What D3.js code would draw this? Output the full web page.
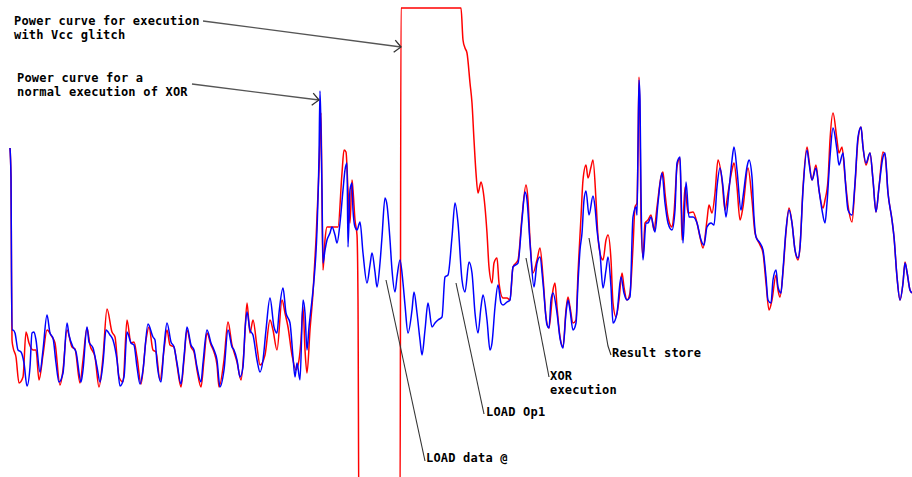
<!DOCTYPE html>
<html>
<head>
<meta charset="utf-8">
<script src="https://cdn.jsdelivr.net/npm/d3@7"></script>
<style>
  body { margin: 0; background: #fff; }
  #chart { width: 912px; height: 477px; }
</style>
</head>
<body>
<div id="chart"></div>
<script>
// sample index (time) and power reading, normal run of XOR
const normalTime = [10, 11, 11.5, 12, 13, 15, 18, 21, 24, 27, 30, 32, 34, 36, 40, 43, 47, 50, 53, 56, 59, 63, 67, 69, 73, 76, 81, 83, 87, 89, 93, 97, 100, 103, 106, 110, 113, 117, 120, 124, 127, 131, 134, 137, 140, 143, 148, 153, 155, 157, 161, 164, 167, 171, 174, 177, 181, 184, 187, 191, 194, 197, 201, 203, 207, 211, 214, 217, 220, 224, 228, 232, 234, 237, 240, 243, 245, 247, 250, 253, 257, 260, 263, 266, 270, 274, 277, 279, 283, 286, 290, 293, 295, 297, 300, 303, 305, 307, 309, 312, 314, 317, 319, 320, 321, 322, 323, 325, 327, 330, 332, 335, 337, 340, 343, 345, 347, 348, 350, 352, 353, 355, 357, 360, 363, 367, 370, 372, 375, 377, 380, 382, 385, 387, 390, 392, 395, 397, 400, 403, 405, 408, 412, 414, 417, 420, 422, 425, 428, 432, 435, 438, 442, 445, 448, 452, 455, 458, 462, 465, 469, 472, 475, 478, 481, 483, 487, 490, 492, 495, 498, 501, 503, 507, 510, 513, 518, 522, 525, 527, 530, 534, 537, 540, 543, 547, 549, 551, 553, 557, 560, 563, 566, 568, 570, 573, 576, 578, 580, 582, 584, 586, 589, 593, 595, 597, 600, 603, 606, 608, 611, 613, 617, 621, 624, 627, 630, 633, 636, 637, 638, 639, 640, 641, 643, 646, 648, 651, 655, 658, 662, 665, 668, 672, 675, 677, 680, 681, 683, 686, 689, 693, 697, 701, 704, 707, 711, 714, 717, 720, 723, 726, 729, 732, 734, 737, 741, 743, 747, 749, 752, 754, 756, 760, 763, 766, 768, 771, 773, 776, 778, 781, 783, 786, 789, 792, 795, 798, 800, 803, 807, 809, 812, 816, 819, 822, 825, 827, 830, 833, 837, 839, 843, 846, 848, 852, 855, 858, 861, 863, 866, 870, 873, 876, 879, 883, 885, 888, 892, 894, 897, 900, 903, 905, 907, 910, 912];
const normalPower = [332, 303, 208, 150, 150, 147, 130, 128, 117, 94, 113, 147, 148, 140, 108, 130, 165, 147, 142, 117, 98, 107, 157, 145, 133, 128, 98, 110, 153, 138, 132, 113, 98, 117, 150, 145, 140, 120, 94, 103, 148, 137, 135, 113, 96, 110, 156, 143, 140, 117, 98, 133, 157, 138, 133, 117, 96, 123, 153, 135, 130, 113, 98, 117, 150, 137, 130, 120, 93, 110, 150, 133, 130, 120, 103, 113, 150, 168, 150, 145, 120, 108, 120, 150, 182, 153, 147, 167, 192, 167, 157, 123, 103, 117, 100, 180, 167, 130, 153, 180, 200, 250, 323, 389, 350, 290, 217, 230, 240, 247, 253, 245, 237, 257, 290, 310, 317, 233, 290, 297, 270, 253, 250, 258, 227, 197, 215, 227, 208, 193, 217, 243, 282, 275, 240, 210, 188, 203, 220, 197, 175, 147, 170, 188, 167, 140, 125, 150, 177, 153, 157, 160, 163, 203, 205, 243, 277, 257, 200, 188, 218, 207, 167, 147, 173, 185, 160, 130, 137, 173, 195, 177, 175, 178, 180, 213, 217, 260, 288, 280, 237, 193, 217, 223, 197, 155, 152, 180, 187, 167, 142, 132, 167, 180, 170, 150, 157, 197, 230, 247, 280, 289, 265, 284, 273, 250, 227, 192, 210, 223, 193, 157, 167, 203, 187, 180, 183, 263, 273, 265, 330, 400, 380, 287, 220, 257, 257, 263, 248, 277, 307, 277, 257, 250, 270, 317, 323, 290, 237, 298, 263, 263, 257, 240, 235, 253, 257, 255, 293, 312, 293, 263, 290, 320, 333, 310, 270, 283, 313, 320, 303, 263, 243, 237, 230, 203, 180, 177, 200, 210, 193, 187, 210, 250, 270, 257, 230, 222, 233, 290, 330, 317, 300, 312, 290, 270, 257, 277, 323, 352, 330, 315, 327, 290, 270, 265, 297, 343, 353, 333, 317, 327, 300, 268, 293, 323, 327, 287, 260, 243, 203, 180, 197, 217, 208, 190, 187];

// same run with the Vcc glitch
const glitchTime = [10, 11, 11.5, 12, 13, 16, 19, 23, 26, 29, 33, 36, 39, 43, 47, 52, 55, 60, 63, 67, 72, 75, 80, 83, 87, 90, 95, 99, 103, 107, 112, 115, 119, 123, 127, 131, 134, 137, 141, 146, 149, 153, 156, 160, 164, 167, 170, 174, 177, 181, 184, 187, 191, 194, 197, 201, 204, 207, 211, 214, 217, 219, 224, 228, 232, 234, 237, 241, 244, 247, 250, 253, 257, 260, 265, 270, 273, 277, 282, 285, 288, 292, 296, 299, 301, 303, 305, 307, 310, 313, 316, 319, 321, 322, 323, 325, 327, 332, 338, 342, 344, 346, 348, 350, 352, 353, 355, 357, 358, 359, 400, 401, 461, 463, 465, 467, 470, 472, 474, 476, 478, 481, 483, 487, 489, 492, 494, 497, 499, 503, 507, 510, 513, 518, 522, 526, 528, 530, 533, 537, 540, 543, 546, 549, 553, 555, 557, 560, 563, 566, 568, 570, 573, 576, 578, 581, 583, 586, 588, 591, 593, 596, 598, 601, 603, 606, 608, 611, 613, 616, 619, 622, 624, 627, 630, 633, 635, 637, 638, 639, 640, 641, 643, 645, 648, 651, 654, 657, 661, 663, 665, 668, 672, 674, 677, 680, 682, 685, 688, 693, 697, 700, 703, 707, 709, 712, 715, 718, 722, 725, 728, 732, 734, 737, 740, 743, 748, 752, 755, 760, 763, 766, 769, 772, 776, 778, 780, 783, 786, 789, 792, 795, 798, 800, 803, 807, 809, 812, 816, 819, 823, 825, 828, 830, 833, 837, 839, 842, 845, 848, 852, 855, 858, 861, 863, 866, 870, 873, 876, 879, 883, 885, 888, 892, 894, 897, 900, 903, 905, 907, 910, 912];
const glitchPower = [332, 303, 208, 140, 133, 123, 97, 103, 148, 137, 130, 130, 100, 125, 150, 143, 137, 95, 110, 150, 133, 131, 97, 120, 152, 135, 123, 93, 123, 171, 148, 143, 103, 98, 160, 137, 138, 123, 96, 140, 153, 130, 128, 100, 130, 150, 135, 133, 115, 93, 120, 150, 133, 128, 110, 93, 120, 147, 135, 128, 115, 93, 120, 158, 135, 128, 118, 100, 130, 177, 147, 160, 133, 115, 125, 160, 150, 130, 180, 167, 153, 125, 110, 120, 140, 173, 130, 107, 150, 187, 240, 310, 367, 280, 210, 240, 253, 253, 253, 307, 330, 328, 290, 257, 300, 290, 260, 245, 180, -60, -60, 472, 472, 440, 432, 427, 397, 377, 340, 307, 287, 298, 290, 247, 213, 197, 217, 222, 197, 182, 182, 180, 213, 220, 263, 295, 280, 240, 207, 220, 232, 203, 163, 152, 190, 197, 173, 143, 133, 170, 183, 173, 157, 160, 207, 263, 300, 315, 302, 313, 320, 280, 243, 223, 220, 240, 245, 220, 177, 163, 180, 207, 193, 180, 187, 233, 273, 277, 330, 403, 360, 260, 223, 257, 260, 265, 250, 273, 303, 308, 287, 263, 253, 267, 313, 322, 240, 293, 267, 268, 257, 243, 232, 260, 275, 267, 287, 320, 300, 270, 287, 310, 317, 293, 260, 273, 312, 280, 247, 235, 227, 197, 170, 180, 205, 190, 183, 208, 248, 272, 257, 230, 220, 233, 292, 333, 320, 300, 315, 290, 272, 280, 300, 340, 367, 340, 327, 333, 303, 275, 258, 295, 340, 353, 333, 315, 327, 300, 268, 293, 328, 325, 287, 260, 243, 203, 180, 197, 218, 208, 190, 187];

// annotation texts
const glitchLabel = ['Power curve for execution', 'with Vcc glitch'];
const normalLabel = ['Power curve for a', 'normal execution of XOR'];
const stepLabels = [['LOAD data @'], ['LOAD Op1'], ['XOR', 'execution'], ['Result store']];

class PowerTrace {

    constructor(opts) {
        this.element = opts.element;
        this.width = 912;
        this.height = 477;
        this.draw();
    }

    draw() {
        this.svg = d3.select(this.element).append('svg')
            .attr('width', this.width)
            .attr('height', this.height)
            .style('display', 'block');

        this.createScales();
        this.addLines();
        this.addAnnotations();
    }

    createScales() {
        // no axes on this one, scope capture style
        this.x = d3.scaleLinear()
            .domain([0, 912])
            .range([0, this.width]);

        this.y = d3.scaleLinear()
            .domain([0, 480])
            .range([480, 0]);
    }

    addLines() {
        const that = this;
        const line = d3.line()
            .x(d => that.x(d[0]))
            .y(d => that.y(d[1]))
            .curve(d3.curveMonotoneX);

        const glitch = d3.zip(glitchTime, glitchPower);
        const normal = d3.zip(normalTime, normalPower);

        // red first, blue drawn over it
        this.svg.append('path')
            .datum(glitch)
            .attr('d', line)
            .attr('fill', 'none')
            .attr('stroke', '#ff0000')
            .attr('stroke-width', 1.5)
            .attr('stroke-linejoin', 'round');

        this.svg.append('path')
            .datum(normal)
            .attr('d', line)
            .attr('fill', 'none')
            .attr('stroke', '#0000ff')
            .attr('stroke-width', 1.5)
            .attr('stroke-linejoin', 'round');
    }

    addText(lines, x, y) {
        const t = this.svg.append('text')
            .attr('x', x)
            .attr('y', y)
            .style('font-family', '"DejaVu Sans Mono", monospace')
            .style('font-weight', 'bold')
            .style('font-size', '12px')
            .style('letter-spacing', '0.2px')
            .attr('fill', '#000');
        lines.forEach((s, i) => {
            t.append('tspan')
                .attr('x', x)
                .attr('dy', i === 0 ? 0 : 13.5)
                .text(s);
        });
    }

    addArrow(x1, y1, x2, y2) {
        const g = this.svg.append('g')
            .attr('stroke', '#555')
            .attr('stroke-width', 1.3)
            .attr('fill', 'none');
        g.append('line')
            .attr('x1', x1).attr('y1', y1)
            .attr('x2', x2).attr('y2', y2);
        // open chevron head
        const a = Math.atan2(y2 - y1, x2 - x1);
        const len = 9, spread = 0.75;
        const p1 = [x2 - len * Math.cos(a - spread), y2 - len * Math.sin(a - spread)];
        const p2 = [x2 - len * Math.cos(a + spread), y2 - len * Math.sin(a + spread)];
        g.append('path')
            .attr('d', `M${p1[0]},${p1[1]} L${x2},${y2} L${p2[0]},${p2[1]}`)
            .attr('stroke', '#333');
    }

    addPointer(points) {
        this.svg.append('path')
            .attr('d', d3.line()(points))
            .attr('fill', 'none')
            .attr('stroke', '#333')
            .attr('stroke-width', 1.1);
    }

    addAnnotations() {
        // curve labels with arrows
        this.addText(glitchLabel, 14, 25);
        this.addArrow(203, 21, 401, 47);

        this.addText(normalLabel, 17, 82);
        this.addArrow(192, 84, 319, 100);

        // instruction step labels
        this.addPointer([[386, 280], [425, 461]]);
        this.addText(stepLabels[0], 426, 462);

        this.addPointer([[456, 283], [484, 414]]);
        this.addText(stepLabels[1], 486, 416);

        this.addPointer([[526, 258], [549, 377]]);
        this.addText(stepLabels[2], 550, 380);

        this.addPointer([[589, 238], [608, 346], [611, 355]]);
        this.addText(stepLabels[3], 612, 357);
    }
}

new PowerTrace({ element: '#chart' });
</script>
</body>
</html>
